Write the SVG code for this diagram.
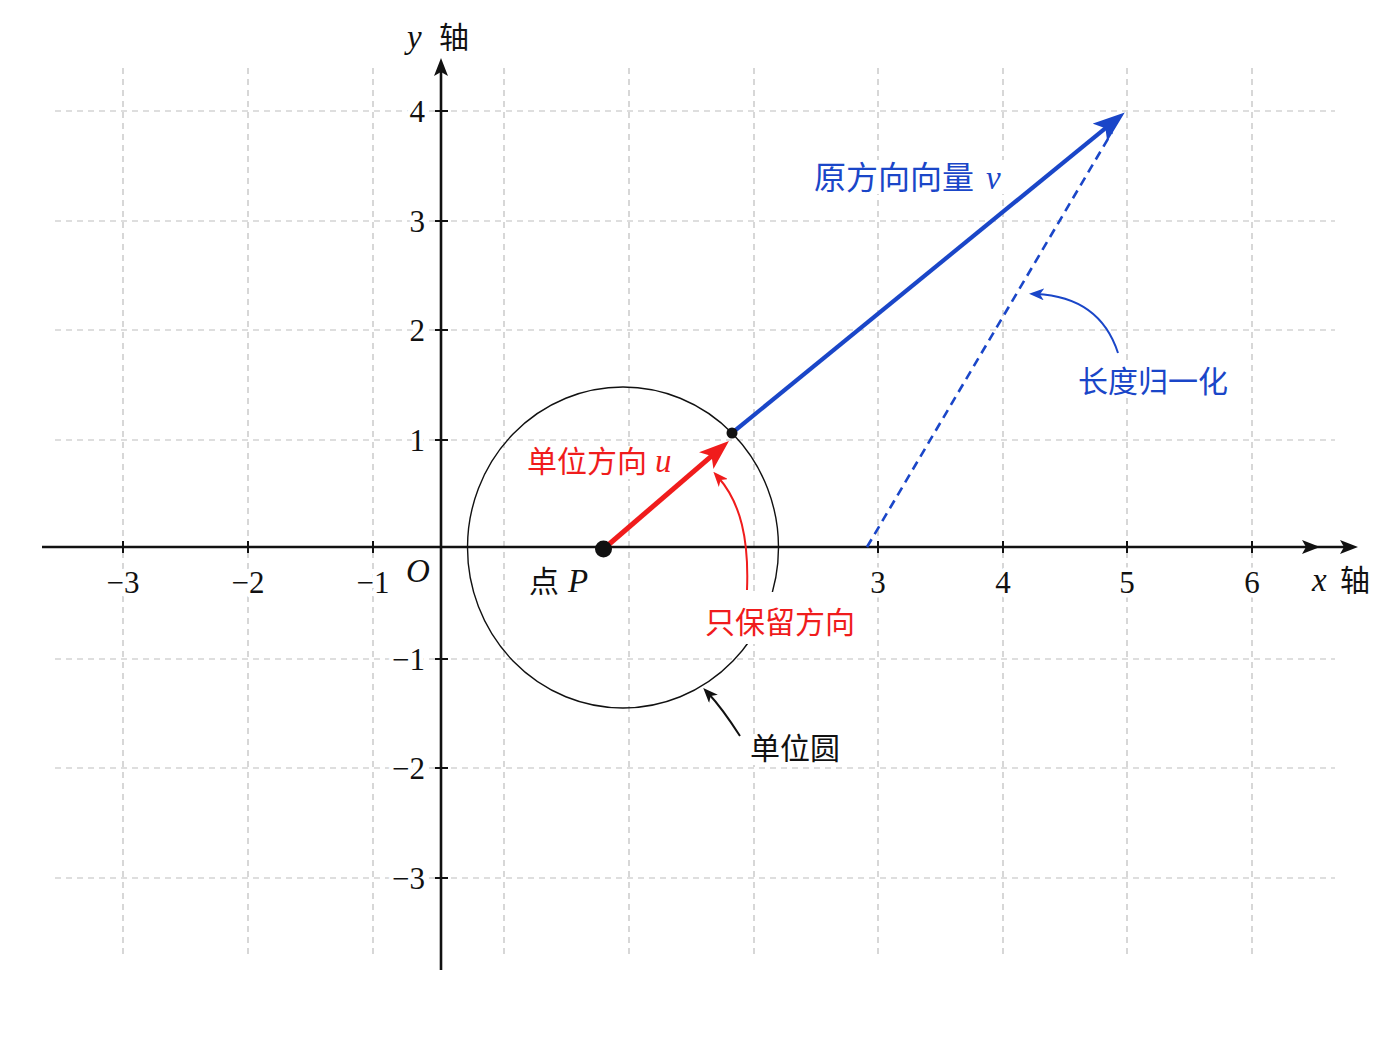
<svg xmlns="http://www.w3.org/2000/svg" width="1400" height="1050" viewBox="0 0 1400 1050">
<style>
.grid{stroke:#bdbdbd;stroke-width:1.2;stroke-dasharray:6 5;fill:none}
.axis{stroke:#111;stroke-width:2.6;fill:none}
.tick{stroke:#111;stroke-width:2;fill:none}
.num{font-family:"Liberation Serif","DejaVu Serif",serif;font-size:31px;fill:#111;stroke:#fff;stroke-width:9px;paint-order:stroke;stroke-linejoin:round}
.math{font-family:"Liberation Serif","DejaVu Serif",serif;font-style:italic;font-size:33px}
.cjk{font-family:"Noto Sans CJK SC","Noto Sans",sans-serif;font-size:30px}
.bg{fill:#fff;stroke:none}
.red{fill:#f01c1c}
.blue{fill:#1a46c8}
.black{fill:#111}
</style>
<defs>
<marker id="axhead" viewBox="0 0 18 14" refX="10" refY="7" markerWidth="18" markerHeight="14" markerUnits="userSpaceOnUse" orient="auto">
<path d="M0,0 L18,7 L0,14 L4,7 z" fill="#111"/>
</marker>
<marker id="redhead" viewBox="0 0 30 22" refX="18" refY="11" markerWidth="30" markerHeight="22" markerUnits="userSpaceOnUse" orient="auto">
<path d="M0,0 L30,11 L0,22 L7,11 z" fill="#f01c1c"/>
</marker>
<marker id="bluehead" viewBox="0 0 32 23" refX="19" refY="11.5" markerWidth="32" markerHeight="23" markerUnits="userSpaceOnUse" orient="auto">
<path d="M0,0 L32,11.5 L0,23 L7,11.5 z" fill="#1a46c8"/>
</marker>
<marker id="redsmall" viewBox="0 0 15 12" refX="8" refY="6" markerWidth="15" markerHeight="12" markerUnits="userSpaceOnUse" orient="auto">
<path d="M0,0 L15,6 L0,12 L4,6 z" fill="#f01c1c"/>
</marker>
<marker id="bluesmall" viewBox="0 0 15 12" refX="8" refY="6" markerWidth="15" markerHeight="12" markerUnits="userSpaceOnUse" orient="auto">
<path d="M0,0 L15,6 L0,12 L4,6 z" fill="#1a46c8"/>
</marker>
<marker id="blacksmall" viewBox="0 0 15 12" refX="8" refY="6" markerWidth="15" markerHeight="12" markerUnits="userSpaceOnUse" orient="auto">
<path d="M0,0 L15,6 L0,12 L4,6 z" fill="#111"/>
</marker>
</defs>
<rect width="1400" height="1050" fill="#fff"/>

<g id="grid">
<path class="grid" d="M123,68V958M248,68V958M373,68V958M504,68V958M629,68V958M754,68V958M878,68V958M1003,68V958M1127,68V958M1252,68V958"/>
<path class="grid" d="M55,111H1335M55,221H1335M55,330H1335M55,440H1335M55,659H1335M55,768H1335M55,878H1335"/>
</g>

<g id="unit-circle">
<ellipse cx="623" cy="547.5" rx="155.5" ry="160.5" fill="none" stroke="#111" stroke-width="1.4"/>
</g>

<g id="axes">
<polyline class="axis" points="42,547 1312,547 1350,547" marker-mid="url(#axhead)" marker-end="url(#axhead)"/>
<line class="axis" x1="441" y1="970" x2="441" y2="66" marker-end="url(#axhead)"/>
<path class="tick" d="M123,541V553M248,541V553M373,541V553M878,541V553M1003,541V553M1127,541V553M1252,541V553"/>
<path class="tick" d="M435,111H448M435,221H448M435,330H448M435,440H448M435,659H448M435,768H448M435,878H448"/>
</g>

<g id="tick-labels">
<text class="num" x="123" y="593" text-anchor="middle">−3</text>
<text class="num" x="248" y="593" text-anchor="middle">−2</text>
<text class="num" x="373" y="593" text-anchor="middle">−1</text>
<text class="num" x="878" y="593" text-anchor="middle">3</text>
<text class="num" x="1003" y="593" text-anchor="middle">4</text>
<text class="num" x="1127" y="593" text-anchor="middle">5</text>
<text class="num" x="1252" y="593" text-anchor="middle">6</text>
<text class="num" x="425" y="122" text-anchor="end">4</text>
<text class="num" x="425" y="232" text-anchor="end">3</text>
<text class="num" x="425" y="341" text-anchor="end">2</text>
<text class="num" x="425" y="451" text-anchor="end">1</text>
<text class="num" x="425" y="670" text-anchor="end">−1</text>
<text class="num" x="425" y="779" text-anchor="end">−2</text>
<text class="num" x="425" y="889" text-anchor="end">−3</text>
</g>

<g id="origin-label">
<text class="math black" x="406" y="582">O</text>
</g>

<g id="axis-labels">
<text x="407" y="48" class="black"><tspan class="math">y</tspan><tspan class="cjk" x="439">轴</tspan></text>
<text x="1312" y="591" class="black"><tspan class="math">x</tspan><tspan class="cjk" x="1340">轴</tspan></text>
</g>

<g id="connectors">
<line x1="867" y1="547" x2="1112" y2="132" stroke="#1a46c8" stroke-width="2.6" stroke-dasharray="9 6" fill="none"/>
<path d="M747,590 C749,540 741,503 718,477" stroke="#f01c1c" stroke-width="2" fill="none" marker-end="url(#redsmall)"/>
<path d="M740,736 Q722,708 708,693" stroke="#111" stroke-width="2" fill="none" marker-end="url(#blacksmall)"/>
<path d="M1118,353 C1106,316 1080,296 1036,294" stroke="#1a46c8" stroke-width="2" fill="none" marker-end="url(#bluesmall)"/>
<line x1="732" y1="433" x2="1114.7" y2="120.6" stroke="#1a46c8" stroke-width="4.2" marker-end="url(#bluehead)"/>
<line x1="603.5" y1="549" x2="719.9" y2="448.8" stroke="#f01c1c" stroke-width="5" marker-end="url(#redhead)"/>
</g>

<g id="point-P">
<circle cx="603.5" cy="549" r="8.5" fill="#111"/>
<rect class="bg" x="526" y="566" width="70" height="30"/>
<text x="529" y="592" class="black"><tspan class="cjk">点</tspan><tspan class="math" x="568">P</tspan></text>
</g>

<g id="point-unit-tip">
<circle cx="732" cy="433" r="5.5" fill="#111"/>
</g>

<g id="label-unit-direction">
<rect class="bg" x="523" y="446" width="156" height="33"/>
<text x="527" y="472" class="red"><tspan class="cjk">单位方向</tspan><tspan class="math" x="655">u</tspan></text>
</g>

<g id="label-keep-direction">
<rect class="bg" x="700" y="592" width="158" height="52"/>
<text x="705" y="633" class="cjk red">只保留方向</text>
</g>

<g id="label-unit-circle">
<rect class="bg" x="746" y="737" width="98" height="28"/>
<text x="750" y="759" class="cjk black">单位圆</text>
</g>

<g id="label-normalize">
<rect class="bg" x="1074" y="362" width="160" height="36"/>
<text x="1078" y="392" class="cjk blue">长度归一化</text>
</g>

<g id="label-original-vector">
<rect class="bg" x="810" y="160" width="198" height="34"/>
<text x="814" y="189" class="blue"><tspan class="cjk" style="font-size:32px">原方向向量</tspan><tspan class="math" x="986">v</tspan></text>
</g>
</svg>
